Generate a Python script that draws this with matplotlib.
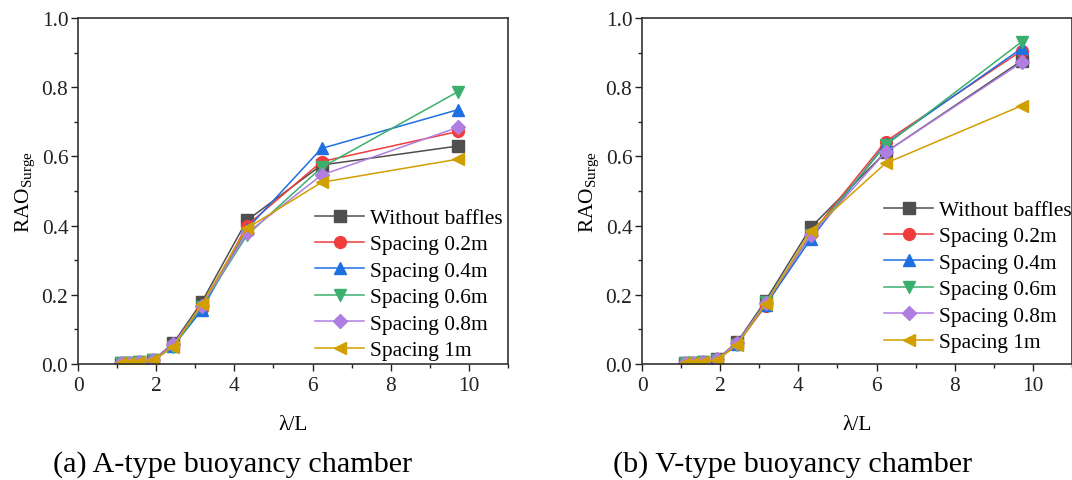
import matplotlib
matplotlib.use("Agg")
import matplotlib.pyplot as plt
from matplotlib.ticker import MultipleLocator

plt.rcParams['font.family'] = ['Liberation Serif', 'DejaVu Serif']
plt.rcParams['mathtext.fontset'] = 'custom'
plt.rcParams['mathtext.rm'] = 'Liberation Serif'
plt.rcParams['mathtext.it'] = 'Liberation Serif:italic'

wave_ratio = [1.1, 1.3, 1.55, 1.93, 2.44, 3.16, 4.32, 6.23, 9.72]

labels = ["Without baffles", "Spacing 0.2m", "Spacing 0.4m",
          "Spacing 0.6m", "Spacing 0.8m", "Spacing 1m"]

a_without = [0.003, 0.004, 0.005, 0.012, 0.060, 0.178, 0.415, 0.575, 0.630]
a_s02 = [0.003, 0.004, 0.005, 0.011, 0.055, 0.158, 0.400, 0.585, 0.672]
a_s04 = [0.003, 0.004, 0.005, 0.010, 0.052, 0.155, 0.390, 0.623, 0.735]
a_s06 = [0.003, 0.004, 0.005, 0.011, 0.050, 0.165, 0.372, 0.568, 0.787]
a_s08 = [0.003, 0.004, 0.005, 0.012, 0.057, 0.168, 0.378, 0.546, 0.684]
a_s10 = [0.003, 0.004, 0.005, 0.011, 0.050, 0.172, 0.392, 0.525, 0.592]

v_without = [0.003, 0.004, 0.005, 0.015, 0.064, 0.183, 0.395, 0.612, 0.877]
v_s02 = [0.003, 0.004, 0.005, 0.015, 0.060, 0.168, 0.375, 0.643, 0.906]
v_s04 = [0.003, 0.004, 0.005, 0.013, 0.058, 0.170, 0.362, 0.636, 0.913]
v_s06 = [0.003, 0.004, 0.005, 0.013, 0.056, 0.178, 0.372, 0.632, 0.932]
v_s08 = [0.003, 0.004, 0.005, 0.015, 0.062, 0.176, 0.372, 0.612, 0.872]
v_s10 = [0.003, 0.004, 0.005, 0.012, 0.056, 0.172, 0.385, 0.580, 0.747]

captions = ["(a) A-type buoyancy chamber", "(b) V-type buoyancy chamber"]

colors = ['#4f4f4f', '#f03c3c', '#1f6fe0', '#3caf6e', '#b07ee0', '#d29f00']
markers = ['s', 'o', '^', 'v', 'D', '<']
msizes = [8, 8.5, 9, 9, 7.5, 9]

W, H = 1072, 481
fig = plt.figure(figsize=(W / 100, H / 100), dpi=100)

axes_px = [(78, 19, 430, 346), (642, 19, 430, 346)]
datasets = [[a_without, a_s02, a_s04, a_s06, a_s08, a_s10],
            [v_without, v_s02, v_s04, v_s06, v_s08, v_s10]]
legend_anchor = [(503, 361), (1072, 353)]
caption_x = [233, 793]
FS = 15.4

for i in range(2):
    x0, y0, w, h = axes_px[i]
    ax = fig.add_axes([x0 / W, 1 - (y0 + h) / H, w / W, h / H])
    for j, series in enumerate(datasets[i]):
        ax.plot(wave_ratio, series, color=colors[j], marker=markers[j],
                markersize=msizes[j], linewidth=1.1, label=labels[j])
    ax.set_xlim(0, 11)
    ax.set_ylim(0, 1.0)
    ax.xaxis.set_major_locator(MultipleLocator(2))
    ax.xaxis.set_minor_locator(MultipleLocator(1))
    ax.yaxis.set_major_locator(MultipleLocator(0.2))
    ax.yaxis.set_minor_locator(MultipleLocator(0.1))
    ax.set_yticks([0, 0.2, 0.4, 0.6, 0.8, 1.0])
    ax.set_yticklabels(['0.0', '0.2', '0.4', '0.6', '0.8', '1.0'])
    ax.tick_params(axis='both', which='major', direction='out', length=5,
                   width=1.0, labelsize=FS, colors='#222222', pad=2)
    ax.tick_params(axis='x', which='major', pad=4)
    ax.tick_params(axis='both', which='minor', direction='out', length=3,
                   width=1.0, colors='#222222')
    for sp in ax.spines.values():
        sp.set_linewidth(1.2)
        sp.set_color('#333333')
    ax.set_xlabel('λ/L', fontsize=FS, labelpad=14)
    ax.set_ylabel(r'$\mathregular{RAO_{Surge}}$', fontsize=FS, labelpad=3)
    lx, ly = legend_anchor[i]
    ax.legend(loc='lower right', bbox_to_anchor=(lx / W, 1 - ly / H),
              bbox_transform=fig.transFigure, frameon=False, fontsize=FS,
              handlelength=2.3, handletextpad=0.28, labelspacing=0.3,
              borderpad=0.0, borderaxespad=0.0)
    fig.text(caption_x[i] / W, 1 - 465 / H, captions[i], fontsize=21.7,
             ha='center', va='center')

fig.savefig('out.png', dpi=100)
